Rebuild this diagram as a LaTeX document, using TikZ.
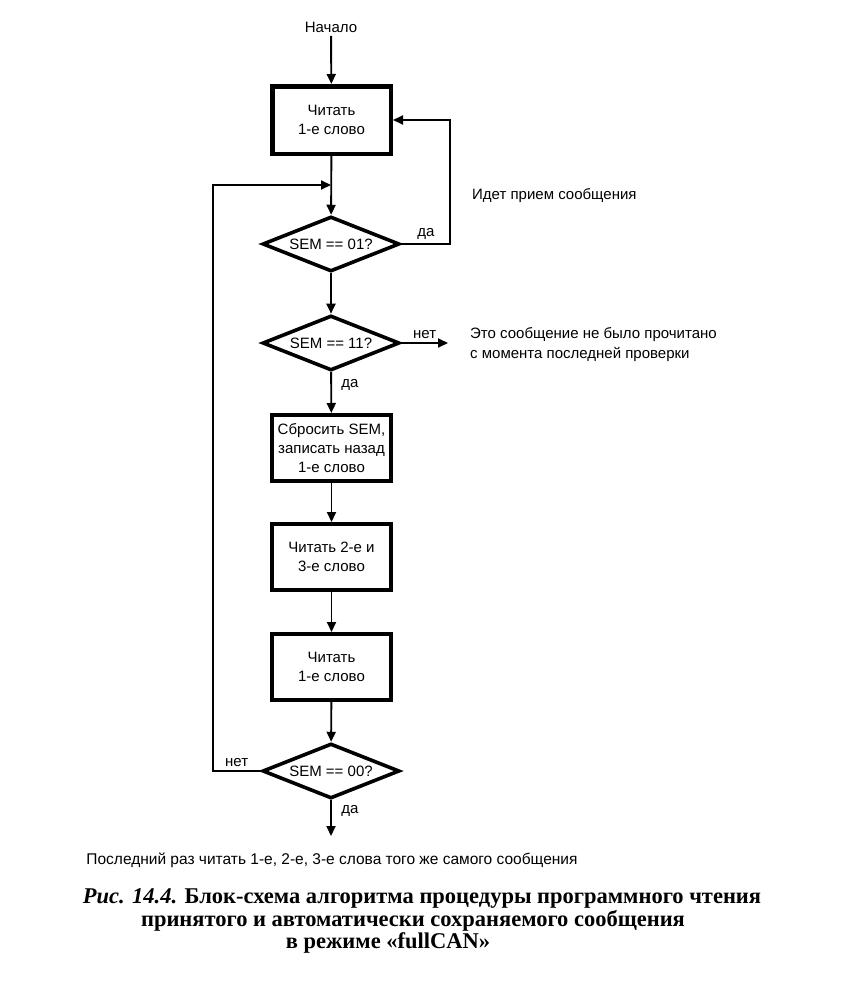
\documentclass[tikz,border=0pt]{standalone}
\usepackage{fontspec}
\setmainfont{Liberation Sans}
\newfontfamily\capfont{Liberation Serif}
\usetikzlibrary{positioning, arrows.meta, shapes.geometric}

\begin{document}
\begin{tikzpicture}[
    x=1pt, y=-1pt,
    font=\fontsize{15}{19}\selectfont,
    firstbox/.style={rectangle, draw=black, line width=4.5pt, minimum width=118.5pt, minimum height=67.5pt, inner sep=0pt, align=center},
    stepbox/.style={rectangle, draw=black, line width=3.6pt, minimum width=119.4pt, minimum height=66.4pt, inner sep=0pt, align=center},
    decision/.style={diamond, draw=black, line width=3.6pt, minimum width=137pt, minimum height=55pt, inner sep=0pt, aspect=2.4},
    flow/.style={line width=1.9pt, -{Triangle[width=9pt, length=10pt]}},
    note/.style={inner sep=0pt, anchor=west, align=left},
    caption/.style={inner sep=0pt, font=\capfont\bfseries\fontsize{22.5}{22.5}\selectfont}
    ]
    \useasboundingbox (0,0) rectangle (863,990);

    \node               (start)    at (331,27)    {Начало};
    \node[firstbox]     (read1)    at (331.5,120) {Читать\\1-е слово};
    \node[decision]     (sem01)    at (331,244)   {SEM == 01?};
    \node[decision]     (sem11)    at (331,343)   {SEM == 11?};
    \node[stepbox]      (reset)    at (331.5,448) {Сбросить SEM,\\записать назад\\1-е слово};
    \node[stepbox]      (read23)   at (331.5,557) {Читать 2-е и\\3-е слово};
    \node[stepbox]      (reread)   at (331.5,667) {Читать\\1-е слово};
    \node[decision]     (sem00)    at (331,771)   {SEM == 00?};
    \coordinate         (merge)    at (331,185);
    \coordinate         (skip)     at (448,343);
    \coordinate         (done)     at (331,836);

    \node[note]         (recv)     at (472,196)   {Идет прием сообщения};
    \node[note, font=\fontsize{15}{20}\selectfont]
                        (unread)   at (470,345)   {Это сообщение не было прочитано\\с момента последней проверки};
    \node[font=\fontsize{15.5}{19}\selectfont]
                        (last)     at (332,860)   {Последний раз читать 1-е, 2-е, 3-е слова того же самого сообщения};

    \node[caption]      (cap1)     at (422,898)   {\textit{Рис. 14.4.} Блок-схема алгоритма процедуры программного чтения};
    \node[caption]      (cap2)     at (413,921)   {принятого и автоматически сохраняемого сообщения};
    \node[caption]      (cap3)     at (388,943)   {в режиме «fullCAN»};

    \draw[flow] (start) -- (read1);
    \draw[flow] (read1) -- (sem01);
    \draw[flow] (sem01) -- (sem11);
    \draw[flow] (sem11) -- node[pos=0.3, right=6pt] {да} (reset);
    \draw[flow] (reset) -- (read23);
    \draw[flow] (read23) -- (reread);
    \draw[flow] (reread) -- (sem00);
    \draw[flow] (sem00) -- node[pos=0.3, right=6pt] {да} (done);
    \draw[flow] (sem01.east) -- node[above] {да} ++(49,0) |- (read1.east);
    \draw[flow] (sem11.east) -- node[above] {нет} (skip);
    \draw[flow] (sem00.west) -- node[above] {нет} ++(-48,0) |- (merge);
\end{tikzpicture}
\end{document}
